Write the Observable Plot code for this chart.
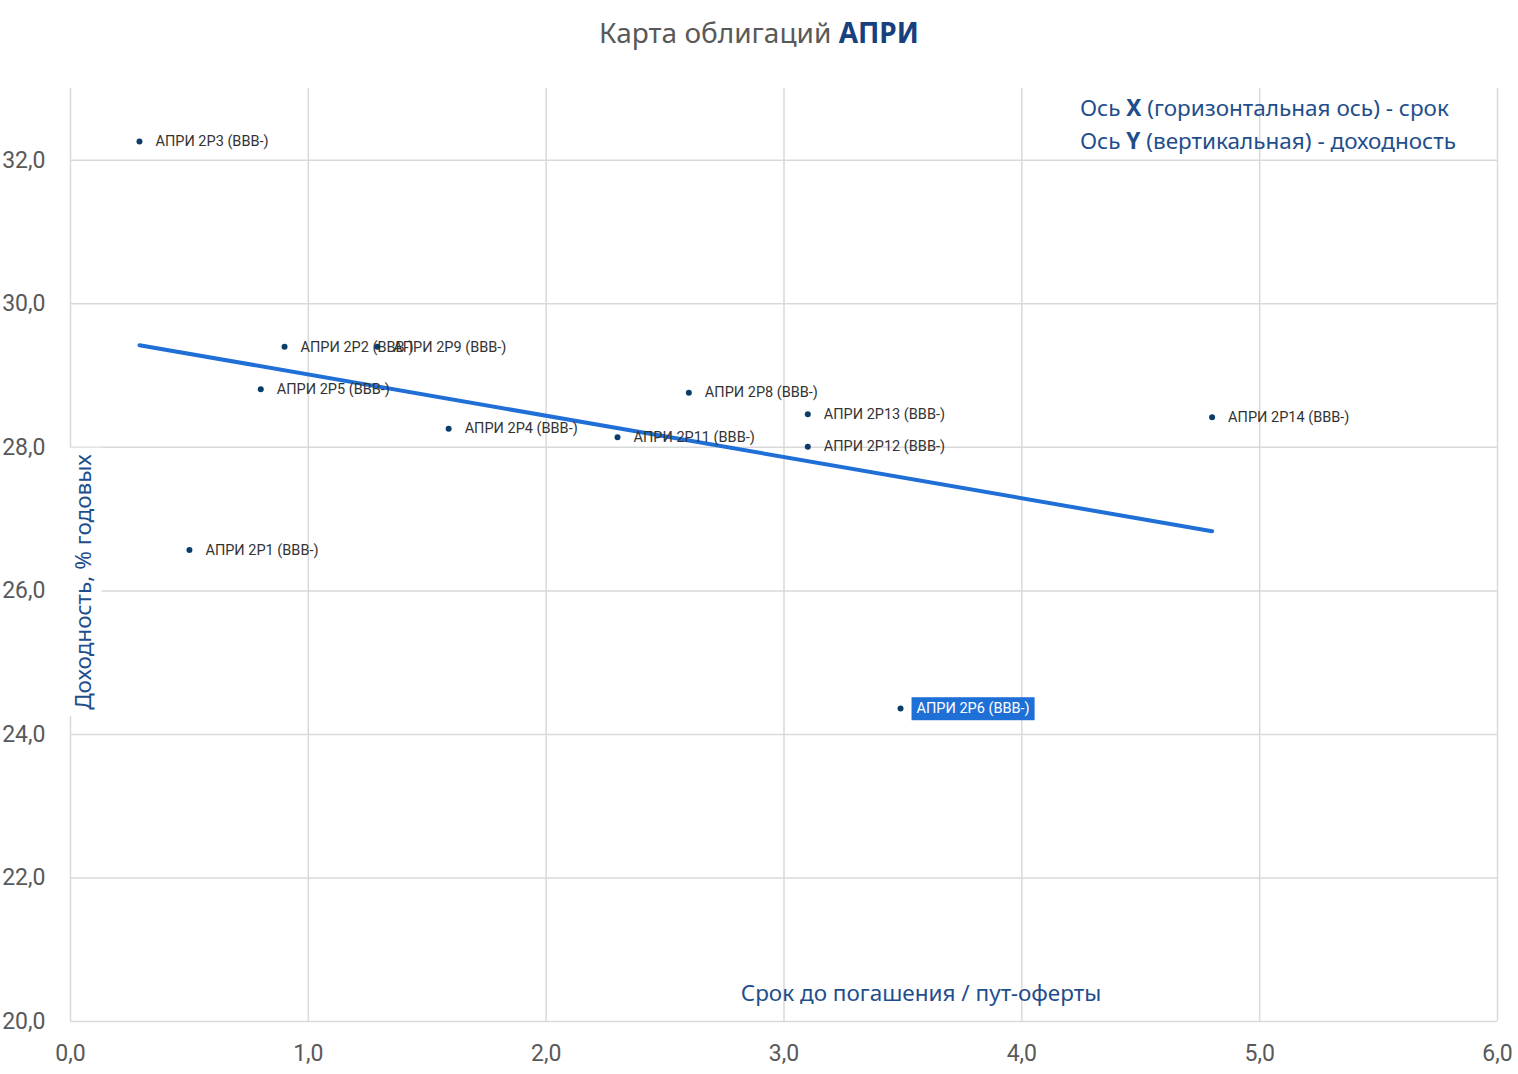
<!DOCTYPE html>
<html>
<head>
<meta charset="utf-8">
<script src="https://cdn.jsdelivr.net/npm/d3@7"></script>
<script src="https://cdn.jsdelivr.net/npm/@observablehq/plot@0.6"></script>
<style>
  body { margin: 0; background: #fff; font-family: Roboto, "Noto Sans", sans-serif; }
  #wrap { position: relative; width: 1518px; }
  #title { height: 70px; text-align: center; font-family: "Noto Sans", "Open Sans", sans-serif; font-size: 28px; line-height: 64px; color: #595959; }
  #title b { color: #17407e; }
  #legend { position: absolute; left: 1080px; top: 91px; font-family: "Noto Sans", "Open Sans", sans-serif; font-size: 22.5px; line-height: 33px; color: #1f4e8c; }
</style>
</head>
<body>
<div id="wrap">
  <div id="title">Карта облигаций <b>АПРИ</b></div>
  <div id="chart"></div>
  <div id="legend">Ось <b>X</b> (горизонтальная ось) - срок<br>Ось <b>Y</b> (вертикальная) - доходность</div>
</div>
<script>
const names = ["АПРИ 2P3 (BBB-)", "АПРИ 2P2 (BBB-)", "АПРИ 2P9 (BBB-)", "АПРИ 2P5 (BBB-)", "АПРИ 2P4 (BBB-)", "АПРИ 2P11 (BBB-)", "АПРИ 2P8 (BBB-)", "АПРИ 2P13 (BBB-)", "АПРИ 2P12 (BBB-)", "АПРИ 2P14 (BBB-)", "АПРИ 2P1 (BBB-)", "АПРИ 2P6 (BBB-)"];
const term = [0.29, 0.90, 1.29, 0.80, 1.59, 2.30, 2.60, 3.10, 3.10, 4.80, 0.50, 3.49];
const yieldPct = [32.26, 29.40, 29.40, 28.81, 28.26, 28.14, 28.76, 28.46, 28.01, 28.42, 26.57, 24.36];
const xTicks = [0, 1, 2, 3, 4, 5, 6];
const yTicks = [20, 22, 24, 26, 28, 30, 32];
const highlighted = "АПРИ 2P6 (BBB-)";
const xTitle = "Срок до погашения / пут-оферты";
const yTitle = "Доходность, % годовых";

const data = names.map((n, i) => ({name: n, x: term[i], y: yieldPct[i]}));
const fmt = v => d3.format(".1f")(v).replace(".", ",");

const chart = Plot.plot({
  width: 1518,
  height: 1004,
  marginTop: 18,
  marginBottom: 53,
  marginLeft: 70,
  marginRight: 21,
  style: {fontFamily: "Roboto, 'Noto Sans', sans-serif", background: "white"},
  x: {domain: [0, 6], label: null},
  y: {domain: [20, 33], label: null},
  marks: [
    Plot.gridX(xTicks, {stroke: "#d9d9d9", strokeOpacity: 1, strokeWidth: 1.5}),
    Plot.gridY(yTicks, {stroke: "#d9d9d9", strokeOpacity: 1, strokeWidth: 1.5}),
    Plot.axisX(xTicks, {tickSize: 0, tickPadding: 23, tickFormat: fmt, fontSize: 23, fill: "#595959", label: null}),
    Plot.axisY(yTicks, {tickSize: 0, tickPadding: 25, tickFormat: fmt, fontSize: 23, fill: "#595959", label: null}),
    Plot.text([yTitle], {frameAnchor: "left", textAnchor: "middle", rotate: -90, dx: 13, dy: 27, fontSize: 22.5, fill: "#1f4e8c", fontFamily: "'Noto Sans', sans-serif", className: "ytitle"}),
    Plot.text([xTitle], {frameAnchor: "bottom", dx: 137, dy: -21, fontSize: 22.5, fill: "#1f4e8c", fontFamily: "'Noto Sans', sans-serif"}),
    Plot.linearRegressionY(data, {x: "x", y: "y", stroke: "#1f6fd6", strokeWidth: 4, ci: 0}),
    Plot.dot(data, {x: "x", y: "y", r: 3, fill: "#0b3d6b"}),
    Plot.text(data, {x: "x", y: "y", text: "name", dx: 16, textAnchor: "start", fontSize: 14.5, fill: d => d.name === highlighted ? "white" : "#333", className: "ptlabel"})
  ]
});
document.getElementById("chart").appendChild(chart);

// white background behind y title
d3.select(chart).selectAll("g.ytitle text").each(function() {
  const b = this.getBBox();
  const r = document.createElementNS("http://www.w3.org/2000/svg", "rect");
  r.setAttribute("x", b.x - 6); r.setAttribute("y", b.y - 6);
  r.setAttribute("width", b.width + 12); r.setAttribute("height", b.height + 10);
  r.setAttribute("fill", "white");
  r.setAttribute("transform", this.getAttribute("transform") || "");
  this.parentNode.insertBefore(r, this);
});
// blue badge behind highlighted label
d3.select(chart).selectAll("g.ptlabel text").each(function() {
  if (this.textContent !== highlighted) return;
  const b = this.getBBox();
  const r = document.createElementNS("http://www.w3.org/2000/svg", "rect");
  r.setAttribute("x", b.x - 5); r.setAttribute("y", b.y - 3);
  r.setAttribute("width", b.width + 10); r.setAttribute("height", b.height + 6);
  r.setAttribute("fill", "#1e6fd6");
  r.setAttribute("transform", this.getAttribute("transform") || "");
  this.parentNode.insertBefore(r, this);
});
</script>
</body>
</html>
